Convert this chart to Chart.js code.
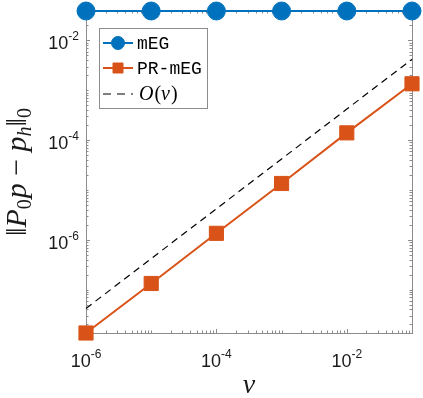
<!DOCTYPE html>
<html>
<head>
<meta charset="utf-8">
<script src="https://cdn.jsdelivr.net/npm/chart.js@4"></script>
<style>
    html, body { margin: 0; padding: 0; background: #fff; }
    canvas { display: block; }
</style>
</head>
<body>
<canvas id="chart" width="423" height="398"></canvas>
<script>
// Daten
const nu = [1e-6, 1e-5, 1e-4, 1e-3, 1e-2, 1e-1];
const errMEG = [3.9e-2, 3.9e-2, 3.9e-2, 3.9e-2, 3.9e-2, 3.9e-2];
const errPRmEG = [1.35e-8, 1.33e-7, 1.35e-6, 1.35e-5, 1.4e-4, 1.35e-3];
const refOrder = [4.2e-8, 4.2e-7, 4.2e-6, 4.2e-5, 4.2e-4, 4.2e-3];

const xRange = [1e-6, 1e-1];
const yRange = [1.35e-8, 3.9e-2];
const xTickExps = [-6, -4, -2];
const yTickExps = [-6, -4, -2];
const seriesLabels = ['mEG', 'PR-mEG', 'O(ν)'];

// Farben (MATLAB Standard)
const COLORS = {
    blue: '#0072BD',
    orange: '#D95319',
    ref: '#000000',
    axis: '#8c8c8c',
    text: '#1a1a1a'
};

const TICK_FONT = '18px "Liberation Sans", Arial, sans-serif';
const SUP_FONT = '12px "Liberation Sans", Arial, sans-serif';
const SERIF = '"Liberation Serif", "DejaVu Serif", serif';

// ==================== Hilfsfunktionen ====================

function drawPow(ctx, exp, x, y, align) {
    const base = '10';
    const sup = '-' + Math.abs(exp);
    ctx.font = TICK_FONT;
    const wb = ctx.measureText(base).width;
    ctx.font = SUP_FONT;
    const ws = ctx.measureText(sup).width;
    const x0 = align === 'center' ? x - (wb + ws) / 2 : x - (wb + ws);
    ctx.textAlign = 'left';
    ctx.textBaseline = 'alphabetic';
    ctx.font = TICK_FONT;
    ctx.fillText(base, x0, y);
    ctx.font = SUP_FONT;
    ctx.fillText(sup, x0 + wb, y - 9);
}

// Segmente mit Schrift und Versatz nacheinander zeichnen
function drawSegments(ctx, segs, x, y) {
    let cx = x;
    segs.forEach(s => {
        ctx.font = s.font;
        ctx.fillText(s.t, cx, y + (s.dy || 0));
        cx += ctx.measureText(s.t).width + (s.gap || 0);
    });
    return cx;
}

function segWidth(ctx, segs) {
    let w = 0;
    segs.forEach(s => {
        ctx.font = s.font;
        w += ctx.measureText(s.t).width + (s.gap || 0);
    });
    return w;
}

function logTicks(range, majors) {
    const list = [];
    const e0 = Math.floor(Math.log10(range[0]));
    const e1 = Math.ceil(Math.log10(range[1]));
    for (let e = e0; e <= e1; e++) {
        for (let m = 1; m <= 9; m++) {
            const v = m * Math.pow(10, e);
            if (v < range[0] * 0.999 || v > range[1] * 1.001) continue;
            list.push({ v, major: m === 1 && majors.includes(e) });
        }
    }
    return list;
}

// ==================== Plugin: Achsen, Beschriftung, Legende ====================

const matlabAxes = {
    id: 'matlabAxes',
    beforeDatasetsDraw(chart) {
        const { ctx, chartArea: a, scales: { x, y } } = chart;
        ctx.save();
        ctx.strokeStyle = COLORS.axis;
        ctx.lineWidth = 1;
        ctx.strokeRect(Math.round(a.left) + 0.5, Math.round(a.top) + 0.5,
            Math.round(a.right - a.left), Math.round(a.bottom - a.top));

        ctx.beginPath();
        logTicks(xRange, xTickExps).forEach(t => {
            const px = Math.round(x.getPixelForValue(t.v)) + 0.5;
            const len = t.major ? 4 : 2.5;
            ctx.moveTo(px, a.bottom); ctx.lineTo(px, a.bottom - len);
            ctx.moveTo(px, a.top); ctx.lineTo(px, a.top + len);
        });
        logTicks(yRange, yTickExps).forEach(t => {
            const py = Math.round(y.getPixelForValue(t.v)) + 0.5;
            const len = t.major ? 4 : 2.5;
            ctx.moveTo(a.left, py); ctx.lineTo(a.left + len, py);
            ctx.moveTo(a.right, py); ctx.lineTo(a.right - len, py);
        });
        ctx.stroke();
        ctx.restore();
    },
    afterDraw(chart) {
        const { ctx, chartArea: a, scales: { x, y } } = chart;
        ctx.save();
        ctx.fillStyle = COLORS.text;

        // Tick-Beschriftungen
        xTickExps.forEach(e => drawPow(ctx, e, x.getPixelForValue(Math.pow(10, e)), a.bottom + 34, 'center'));
        yTickExps.forEach(e => drawPow(ctx, e, a.left - 7, y.getPixelForValue(Math.pow(10, e)) + 9, 'right'));

        // x-Achsentitel
        ctx.font = 'italic 28px ' + SERIF;
        ctx.textAlign = 'center';
        ctx.fillText('ν', (a.left + a.right) / 2, 393);
        ctx.textAlign = 'left';

        // y-Achsentitel
        const big = '30px ' + SERIF;
        const bigIt = 'italic 30px ' + SERIF;
        const sub = '20px ' + SERIF;
        const subIt = 'italic 20px ' + SERIF;
        const ySegs = [
            { t: '‖', font: big },
            { t: 'P', font: bigIt },
            { t: '0', font: sub, dy: 5, gap: 1 },
            { t: 'p', font: bigIt },
            { t: ' − ', font: big },
            { t: 'p', font: bigIt },
            { t: 'h', font: subIt, dy: 5 },
            { t: '‖', font: big },
            { t: '0', font: sub, dy: 5 }
        ];
        const w = segWidth(ctx, ySegs);
        ctx.translate(26, (a.top + a.bottom) / 2);
        ctx.rotate(-Math.PI / 2);
        drawSegments(ctx, ySegs, -w / 2, 0);
        ctx.setTransform(1, 0, 0, 1, 0, 0);

        // Legende
        const box = { l: 99, t: 28, r: 207, b: 108 };
        ctx.fillStyle = '#fff';
        ctx.fillRect(box.l, box.t, box.r - box.l, box.b - box.t);
        ctx.strokeStyle = COLORS.axis;
        ctx.lineWidth = 1;
        ctx.strokeRect(box.l + 0.5, box.t + 0.5, box.r - box.l, box.b - box.t);

        const rows = [43, 68, 94];
        chart.data.datasets.forEach((ds, i) => {
            const ry = rows[i];
            ctx.strokeStyle = ds.borderColor;
            ctx.lineWidth = ds.borderWidth;
            ctx.setLineDash(ds.borderDash ? [8, 6] : []);
            ctx.beginPath();
            ctx.moveTo(103, ry);
            ctx.lineTo(133, ry);
            ctx.stroke();
            ctx.setLineDash([]);
            if (ds.pointRadius > 0) {
                ctx.fillStyle = ds.pointBackgroundColor;
                ctx.strokeStyle = ds.pointBorderColor;
                ctx.lineWidth = 1;
                ctx.beginPath();
                if (ds.pointStyle === 'circle') {
                    ctx.arc(118, ry, 6.5, 0, Math.PI * 2);
                } else {
                    ctx.rect(113, ry - 5, 10, 10);
                }
                ctx.fill();
                ctx.stroke();
            }
            ctx.fillStyle = '#000';
            ctx.textBaseline = 'middle';
            if (i < 2) {
                ctx.font = '18px "Liberation Mono", "Courier New", monospace';
                ctx.fillText(ds.label, 137, ry + 1);
            } else {
                drawSegments(ctx, [
                    { t: 'O', font: 'italic 20px ' + SERIF, gap: 1 },
                    { t: '(', font: '20px ' + SERIF },
                    { t: 'ν', font: 'italic 20px ' + SERIF, gap: 1 },
                    { t: ')', font: '20px ' + SERIF }
                ], 139, ry + 1);
            }
        });
        ctx.restore();
    }
};

// ==================== Chart ====================

function toPoints(xs, ys) {
    return xs.map((v, i) => ({ x: v, y: ys[i] }));
}

const ctx = document.getElementById('chart');

new Chart(ctx, {
    type: 'line',
    data: {
        datasets: [
            {
                label: seriesLabels[0],
                data: toPoints(nu, errMEG),
                borderColor: COLORS.blue,
                backgroundColor: COLORS.blue,
                pointBackgroundColor: COLORS.blue,
                pointBorderColor: COLORS.blue,
                borderWidth: 2,
                pointStyle: 'circle',
                pointRadius: 9,
                pointBorderWidth: 1,
                clip: false,
                tension: 0
            },
            {
                label: seriesLabels[1],
                data: toPoints(nu, errPRmEG),
                borderColor: COLORS.orange,
                backgroundColor: COLORS.orange,
                pointBackgroundColor: COLORS.orange,
                pointBorderColor: COLORS.orange,
                borderWidth: 2,
                pointStyle: 'rect',
                pointRadius: 10,
                pointBorderWidth: 1,
                clip: false,
                tension: 0
            },
            {
                label: seriesLabels[2],
                data: toPoints(nu, refOrder),
                borderColor: COLORS.ref,
                borderWidth: 1.2,
                borderDash: [7, 5],
                pointRadius: 0,
                clip: false,
                tension: 0
            }
        ]
    },
    options: {
        responsive: false,
        animation: false,
        devicePixelRatio: 1,
        layout: {
            padding: { left: 86, right: 9, top: 10, bottom: 65 }
        },
        plugins: {
            legend: { display: false },
            tooltip: { enabled: false }
        },
        scales: {
            x: {
                type: 'logarithmic',
                min: xRange[0],
                max: xRange[1],
                bounds: 'data',
                display: false
            },
            y: {
                type: 'logarithmic',
                min: yRange[0],
                max: yRange[1],
                bounds: 'data',
                display: false
            }
        }
    },
    plugins: [matlabAxes]
});
</script>
</body>
</html>
